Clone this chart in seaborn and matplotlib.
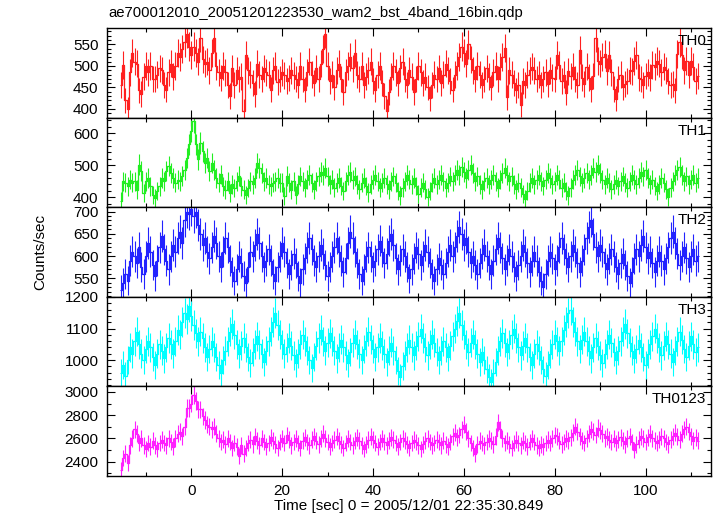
import numpy as np
import pandas as pd
import matplotlib
matplotlib.use("Agg")
import matplotlib.pyplot as plt
import seaborn as sns
from matplotlib.ticker import MultipleLocator, FixedLocator

# light curve bins: centre of first bin and bin width (sec)
t_start = -15.5
bin_size = 0.5

th0 = [455, 502, 420, 400, 485, 530, 510, 505, 443, 435, 475, 500, 485, 500, 470, 470, 480, 495, 490, 455,
       445, 485, 505, 475, 500, 530, 520, 540, 555, 575, 545, 525, 545, 530, 510, 565, 515, 505, 510, 490,
       530, 565, 500, 485, 472, 500, 485, 455, 430, 495, 455, 490, 470, 475, 395, 525, 490, 480, 460, 435,
       505, 480, 470, 495, 485, 480, 445, 490, 500, 462, 470, 485, 478, 465, 472, 490, 478, 470, 455, 500,
       470, 445, 485, 510, 480, 460, 495, 470, 505, 540, 575, 500, 465, 480, 450, 490, 505, 470, 440, 485,
       500, 520, 495, 530, 480, 470, 500, 455, 475, 490, 510, 465, 445, 480, 500, 460, 430, 395, 440, 475,
       500, 485, 460, 495, 510, 470, 455, 490, 475, 440, 470, 500, 485, 460, 475, 450, 425, 455, 480, 470,
       495, 460, 480, 505, 490, 465, 445, 480, 500, 520, 545, 530, 505, 550, 515, 490, 470, 500, 480, 455,
       470, 495, 475, 450, 485, 500, 470, 498, 520, 541, 427, 490, 480, 460, 443, 455, 410, 465, 455, 480,
       490, 498, 490, 470, 480, 455, 470, 485, 457, 490, 473, 470, 525, 502, 465, 480, 438, 488, 477, 498,
       470, 455, 537, 473, 458, 498, 473, 447, 477, 565, 512, 505, 520, 527, 488, 525, 485, 447, 424, 470,
       480, 450, 458, 465, 490, 488, 512, 525, 473, 470, 455, 477, 485, 473, 502, 498, 512, 505, 485, 498,
       490, 465, 455, 458, 443, 527, 555, 525, 490, 512, 480, 512, 498, 465, 477]

th1 = [387, 450, 445, 434, 455, 445, 450, 424, 502, 481, 414, 450, 460, 434, 408, 398, 419, 434, 460, 450,
       481, 497, 476, 460, 445, 455, 450, 466, 486, 523, 565, 606, 637, 565, 518, 570, 544, 507, 523, 481,
       507, 486, 460, 445, 471, 434, 424, 450, 414, 440, 429, 450, 466, 434, 424, 408, 429, 450, 440, 460,
       507, 492, 476, 450, 460, 440, 434, 445, 450, 460, 445, 445, 403, 466, 445, 424, 450, 408, 440, 465,
       450, 430, 455, 470, 445, 425, 450, 465, 480, 470, 490, 465, 440, 455, 430, 445, 460, 435, 420, 450,
       470, 480, 455, 465, 440, 425, 445, 460, 435, 415, 440, 455, 470, 450, 430, 445, 460, 440, 425, 450,
       465, 445, 420, 405, 430, 450, 470, 455, 440, 460, 435, 410, 430, 445, 425, 400, 420, 445, 460, 440,
       455, 470, 450, 430, 445, 465, 450, 470, 485, 470, 495, 480, 460, 485, 500, 475, 450, 465, 440, 425,
       450, 460, 440, 455, 470, 450, 430, 455, 475, 490, 470, 450, 465, 440, 425, 445, 430, 410, 395, 420,
       445, 460, 440, 455, 470, 450, 435, 455, 475, 460, 440, 450, 470, 455, 430, 445, 420, 405, 430, 455,
       470, 485, 465, 445, 460, 475, 455, 470, 490, 480, 500, 475, 455, 440, 460, 445, 425, 440, 455, 435,
       450, 465, 445, 430, 450, 470, 455, 440, 460, 480, 465, 485, 460, 440, 455, 435, 420, 440, 460, 445,
       425, 400, 430, 450, 470, 485, 495, 470, 450, 465, 440, 455, 470, 445, 460]

th2 = [525, 540, 560, 545, 590, 610, 600, 585, 620, 575, 560, 600, 630, 610, 580, 555, 590, 620, 645, 615,
       590, 570, 600, 625, 610, 640, 655, 630, 680, 700, 695, 705, 690, 700, 670, 650, 625, 640, 610, 595,
       620, 645, 630, 600, 575, 610, 640, 620, 590, 565, 545, 570, 600, 585, 555, 540, 575, 610, 600, 625,
       650, 630, 600, 575, 590, 615, 590, 560, 545, 575, 600, 630, 610, 585, 560, 580, 605, 585, 555, 540,
       570, 595, 620, 640, 615, 590, 575, 600, 625, 605, 580, 555, 575, 600, 620, 640, 610, 590, 565, 595,
       630, 655, 640, 610, 585, 560, 545, 570, 600, 620, 600, 575, 590, 615, 635, 610, 585, 605, 635, 650,
       625, 595, 570, 590, 615, 600, 575, 550, 570, 595, 620, 605, 580, 600, 625, 610, 585, 560, 545, 570,
       595, 580, 560, 585, 610, 625, 600, 620, 645, 665, 650, 625, 640, 610, 585, 600, 580, 560, 585, 605,
       625, 600, 580, 560, 590, 615, 640, 620, 595, 570, 590, 615, 600, 575, 555, 580, 600, 625, 610, 585,
       565, 590, 610, 590, 565, 545, 530, 560, 590, 610, 595, 570, 590, 620, 640, 615, 595, 575, 600, 625,
       610, 585, 565, 590, 615, 640, 665, 680, 650, 620, 600, 625, 610, 585, 570, 595, 615, 600, 575, 560,
       585, 605, 580, 555, 540, 565, 595, 615, 600, 625, 645, 620, 595, 610, 585, 565, 590, 610, 590, 570,
       595, 620, 640, 655, 630, 605, 580, 600, 620, 595, 575, 600, 615, 590, 600]

th3 = [960, 985, 950, 1000, 1040, 1020, 1060, 1090, 1050, 1020, 1000, 1035, 1060, 1040, 1010, 985, 1020, 1050, 1030, 1005,
       1040, 1070, 1050, 1020, 1060, 1095, 1080, 1120, 1150, 1130, 1170, 1140, 1110, 1085, 1060, 1090, 1070, 1040, 1010, 1035,
       1060, 1040, 1010, 985, 960, 1000, 1030, 1060, 1090, 1115, 1080, 1050, 1020, 1045, 1070, 1040, 1010, 990, 1025, 1050,
       1075, 1050, 1020, 995, 1030, 1060, 1090, 1120, 1150, 1110, 1080, 1050, 1020, 1040, 1070, 1045, 1015, 990, 1020, 1050,
       1080, 1060, 1030, 1000, 975, 1010, 1045, 1070, 1095, 1060, 1030, 1055, 1085, 1060, 1030, 1005, 1040, 1065, 1040, 1015,
       990, 1025, 1055, 1080, 1050, 1020, 1000, 1035, 1060, 1090, 1065, 1035, 1010, 1040, 1070, 1045, 1020, 995, 1030, 1055,
       1030, 1000, 965, 945, 980, 1015, 1040, 1065, 1040, 1015, 1045, 1075, 1100, 1070, 1040, 1015, 1050, 1080, 1055, 1025,
       1000, 1030, 1060, 1040, 1010, 1045, 1075, 1100, 1125, 1150, 1110, 1080, 1050, 1025, 1055, 1080, 1050, 1020, 995, 1025,
       1000, 970, 945, 930, 960, 995, 1030, 1060, 1085, 1055, 1025, 1050, 1080, 1100, 1070, 1040, 1015, 1045, 1070, 1040,
       1010, 985, 1020, 1050, 1030, 1000, 970, 950, 985, 1020, 1050, 1080, 1060, 1030, 1060, 1095, 1120, 1150, 1160, 1120,
       1090, 1060, 1035, 1065, 1090, 1060, 1030, 1005, 1040, 1070, 1045, 1015, 990, 1020, 1050, 1080, 1055, 1025, 1000, 1030,
       1060, 1090, 1115, 1085, 1055, 1030, 1005, 1035, 1065, 1040, 1010, 985, 1020, 1050, 1075, 1100, 1070, 1040, 1015, 1045,
       1075, 1050, 1020, 995, 1030, 1060, 1090, 1065, 1035, 1010, 1045, 1075, 1050, 1025, 1040]

th0123 = [2330, 2430, 2470, 2390, 2540, 2600, 2680, 2640, 2560, 2600, 2540, 2510, 2560, 2530, 2580, 2540, 2510, 2560, 2590, 2560,
          2540, 2600, 2570, 2530, 2600, 2640, 2660, 2620, 2700, 2860, 2860, 2900, 2970, 2920, 2850, 2850, 2790, 2760, 2720, 2700,
          2680, 2700, 2640, 2600, 2570, 2590, 2550, 2600, 2570, 2520, 2560, 2530, 2450, 2540, 2470, 2520, 2560, 2590, 2550, 2620,
          2580, 2540, 2600, 2570, 2530, 2560, 2610, 2580, 2550, 2520, 2570, 2600, 2560, 2630, 2590, 2540, 2570, 2600, 2560, 2520,
          2580, 2610, 2570, 2540, 2590, 2620, 2580, 2550, 2600, 2640, 2600, 2570, 2530, 2560, 2590, 2620, 2580, 2550, 2520, 2560,
          2600, 2570, 2540, 2580, 2610, 2580, 2540, 2510, 2550, 2590, 2620, 2590, 2560, 2530, 2570, 2600, 2570, 2540, 2580, 2610,
          2590, 2560, 2530, 2570, 2600, 2580, 2550, 2520, 2560, 2590, 2570, 2540, 2510, 2550, 2580, 2600, 2570, 2540, 2560, 2590,
          2570, 2540, 2580, 2550, 2530, 2570, 2620, 2650, 2610, 2630, 2680, 2720, 2660, 2600, 2560, 2520, 2470, 2550, 2580, 2560,
          2540, 2570, 2600, 2580, 2550, 2620, 2740, 2680, 2600, 2560, 2580, 2550, 2520, 2560, 2590, 2560, 2540, 2580, 2560, 2530,
          2570, 2600, 2570, 2540, 2520, 2550, 2530, 2560, 2590, 2560, 2600, 2630, 2620, 2580, 2550, 2570, 2600, 2580, 2610, 2650,
          2700, 2660, 2620, 2580, 2560, 2600, 2640, 2680, 2660, 2630, 2690, 2670, 2640, 2600, 2620, 2590, 2570, 2600, 2560, 2590,
          2610, 2580, 2550, 2600, 2620, 2570, 2500, 2550, 2590, 2620, 2600, 2570, 2610, 2640, 2600, 2580, 2560, 2590, 2620, 2600,
          2570, 2550, 2590, 2620, 2650, 2620, 2590, 2640, 2680, 2700, 2660, 2620, 2580, 2610, 2580]

band_names = ["TH0", "TH1", "TH2", "TH3", "TH0123"]
band_colors = ["#ff2020", "#22ee22", "#2222ff", "#00ffff", "#ff20ff"]
band_data = [th0, th1, th2, th3, th0123]
y_limits = [(380, 588), (369, 649), (509, 710), (917, 1201), (2280, 3049)]
y_ticks = [[400, 450, 500, 550], [400, 500, 600], [550, 600, 650, 700],
           [1000, 1100, 1200], [2400, 2600, 2800, 3000]]
y_minor = [10, 20, 10, 20, 100]

title = "ae700012010_20051201223530_wam2_bst_4band_16bin.qdp"
x_label = "Time [sec] 0 = 2005/12/01 22:35:30.849"
y_label = "Counts/sec"

sns.set_style("ticks")
plt.rcParams["font.family"] = ["Liberation Sans", "DejaVu Sans"]
plt.rcParams["font.size"] = 11
for key in ["text.color", "axes.labelcolor", "xtick.color", "ytick.color", "axes.edgecolor"]:
    plt.rcParams[key] = "black"

fig, axes = plt.subplots(5, 1, figsize=(7.17, 5.16), dpi=100, sharex=True)
fig.subplots_adjust(left=0.149, right=0.9916, top=0.9457, bottom=0.078, hspace=0)

for ax, name, color, vals, ylim, yt, ym in zip(axes, band_names, band_colors, band_data,
                                               y_limits, y_ticks, y_minor):
    rate = np.asarray(vals, dtype=float)
    df = pd.DataFrame({"time": t_start + bin_size * np.arange(len(rate)), "rate": rate})
    df["err"] = np.sqrt(df["rate"] * bin_size) / bin_size

    sns.lineplot(data=df, x="time", y="rate", ax=ax, color=color, lw=0.9,
                 drawstyle="steps-mid", estimator=None, legend=False)
    ax.errorbar(df["time"], df["rate"], yerr=df["err"], xerr=bin_size / 2, fmt="none",
                ecolor=color, elinewidth=0.8, capsize=0)

    ax.set_ylim(*ylim)
    ax.yaxis.set_major_locator(FixedLocator(yt))
    ax.yaxis.set_minor_locator(MultipleLocator(ym))
    ax.set_ylabel("")
    ax.set_xlabel("")
    ax.text(0.992, 0.93, name, transform=ax.transAxes, ha="right", va="top", fontsize=11)
    ax.tick_params(which="both", direction="in", top=True, right=True, width=0.8, colors="black")
    ax.tick_params(which="major", length=6, pad=6)
    ax.tick_params(which="minor", length=3)
    for sp in ax.spines.values():
        sp.set_linewidth(1.0)
        sp.set_color("black")

axes[-1].set_xlim(-18.6, 114.4)
axes[-1].xaxis.set_major_locator(MultipleLocator(20))
axes[-1].xaxis.set_minor_locator(MultipleLocator(10))
axes[-1].set_xlabel(x_label, fontsize=11, labelpad=1)

fig.text(0.151, 0.975, title, ha="left", va="center", fontsize=10.7)
fig.text(0.056, 0.512, y_label, rotation=90, ha="center", va="center", fontsize=11)

plt.savefig("out.png", dpi=100)
